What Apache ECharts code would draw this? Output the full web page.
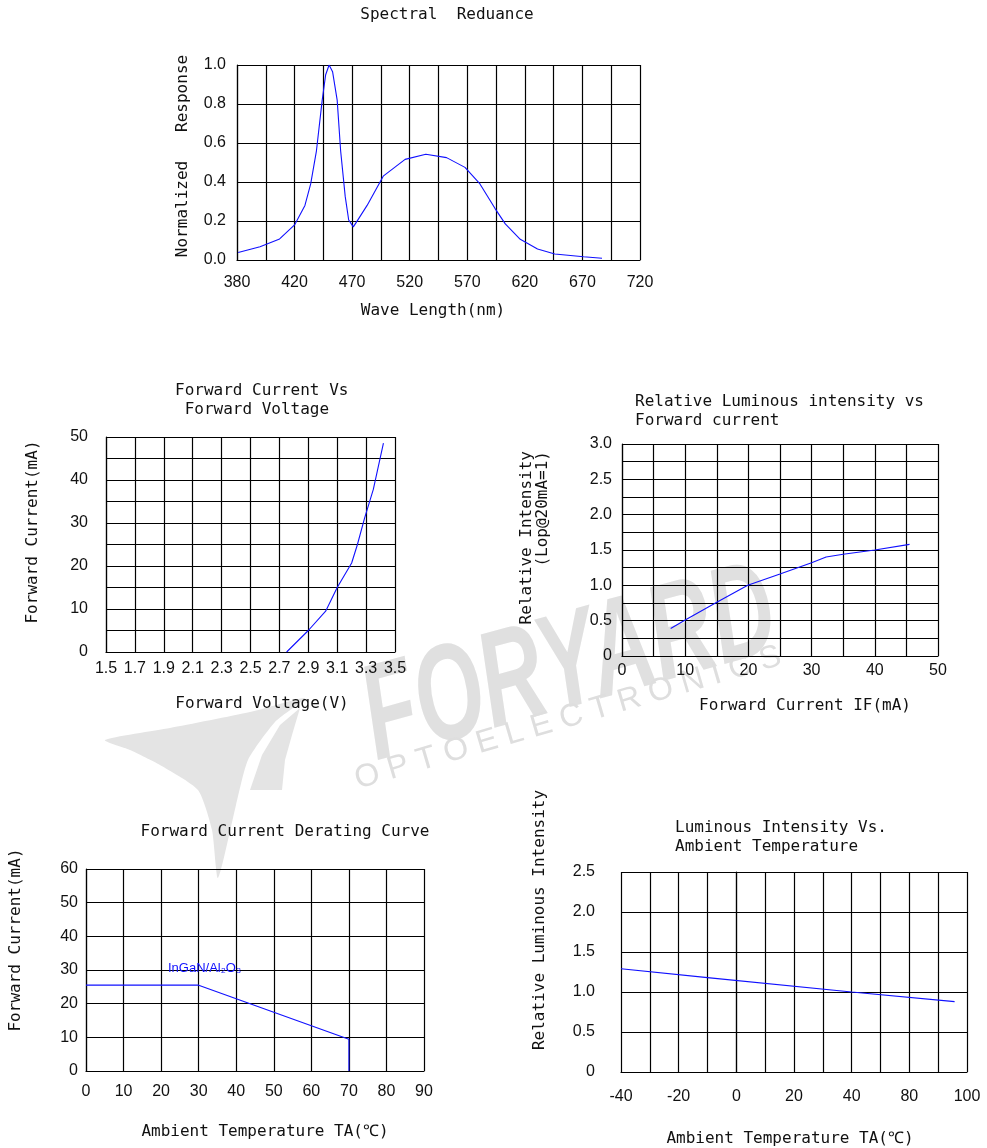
<!DOCTYPE html>
<html>
<head>
<meta charset="utf-8">
<script src="https://cdn.jsdelivr.net/npm/echarts@6/dist/echarts.min.js"></script>
<style>
html,body{margin:0;padding:0;background:#fff;}
#c{width:987px;height:1148px;}
</style>
</head>
<body>
<div id="c"></div>
<script>
// ---- Data ----
// Chart 1: Spectral response (axis in 25 nm columns starting at 370)
const specWave = [371,390,407,420,429,434,439,444,447,450,453,457,460,464,467,471,474,483,497,516,534,552,568,581,594,603,616,631,646,671,687];
const specResp = [0.038,0.068,0.108,0.18,0.28,0.39,0.56,0.82,0.95,1.0,0.966,0.82,0.56,0.325,0.205,0.17,0.197,0.28,0.43,0.516,0.542,0.525,0.475,0.39,0.265,0.185,0.106,0.056,0.031,0.017,0.009];
const specXLabels = ['380','420','470','520','570','620','670','720'];

// Chart 2: Forward current vs forward voltage
const vfVolt = [2.75,2.9,3.02,3.1,3.2,3.24,3.29,3.35,3.42];
const vfCurr = [0,5,9.5,15,20.7,25,31.2,37.8,48.6];

// Chart 3: Relative luminous intensity vs forward current
const ivCurr = [7.7,10,15,19.9,25,30,32.3,35,40,45.5];
const ivRel  = [0.39,0.51,0.76,1.0,1.16,1.32,1.4,1.44,1.5,1.58];

// Chart 4: Forward current derating curve
const derTemp = [0,30,70,70];
const derCurr = [25.5,25.5,9.4,0];

// Chart 5: Luminous intensity vs ambient temperature (axis in columns from -40, step 10)
const ltTemp = [-40,-10,40,75.7];
const ltRel  = [1.29,1.18,1.0,0.88];
const ltXLabels = ['-40','-20','0','20','40','80','100'];

// ---- Styles ----
const MONO = '"DejaVu Sans Mono", monospace';
const NUM = '"Liberation Sans Narrow", "Liberation Sans", sans-serif';
const txtColor = '#111';
const gridLine = {show:true, lineStyle:{color:'#000', width:1.2}};
const axLine = {show:true, lineStyle:{color:'#000', width:1.2}};
const lbl = (margin, fmt) => ({show:true, color:'#111', fontFamily:NUM, fontSize:16, margin:margin, formatter:fmt, showMinLabel:true, showMaxLabel:true});

function xy(arrX, arrY){ return arrX.map((x,i)=>[x, arrY[i]]); }

function xAx(gi, min, max, interval, margin, fmt){
  return {type:'value', gridIndex:gi, min, max, interval, axisLine:axLine, axisTick:{show:false},
    splitLine:gridLine, axisLabel:lbl(margin, fmt)};
}
function yAx(gi, min, max, interval, margin, fmt){
  return {type:'value', gridIndex:gi, min, max, interval, axisLine:axLine, axisTick:{show:false},
    splitLine:gridLine, axisLabel:lbl(margin, fmt)};
}
function line(i, data){
  return {type:'line', xAxisIndex:i, yAxisIndex:i, data, symbol:'none', smooth:false,
    lineStyle:{color:'#1010ff', width:1.1}, z:5};
}
function t(text, x, y, opts){
  opts = opts||{};
  return Object.assign({type:'text', x, y, z:10,
    style:Object.assign({text, font:'16px '+MONO, fill:txtColor,
      textAlign:opts.align||'center', align:opts.align||'center',
      textVerticalAlign:'middle', verticalAlign:'middle', lineHeight:opts.lh||19}, opts.style||{})},
    opts.rot ? {rotation:opts.rot} : {});
}

const chart = echarts.init(document.getElementById('c'), null, {renderer:'canvas'});

const option = {
  backgroundColor:'#fff',
  animation:false,
  grid:[
    {left:237, top:65, width:403, height:195},
    {left:106, top:437, width:289, height:215},
    {left:622, top:444, width:316, height:212},
    {left:86, top:869, width:338, height:202},
    {left:621, top:872, width:346, height:200}
  ],
  xAxis:[
    xAx(0, 370, 720, 25, 15, v => { const i = Math.round((v-370)/25); return i%2 ? '' : specXLabels[i/2]; }),
    xAx(1, 1.5, 3.5, 0.2, 9, v => v.toFixed(1)),
    xAx(2, 0, 50, 5, 7, v => (Math.round(v)%10 ? '' : String(v))),
    xAx(3, 0, 90, 10, 13, v => String(v)),
    xAx(4, -40, 80, 10, 17, v => { const i = Math.round((v+40)/10); return i%2 ? '' : ltXLabels[i/2]; })
  ],
  yAxis:[
    yAx(0, 0, 1, 0.2, 11, v => v.toFixed(1)),
    yAx(1, 0, 50, 5, 18, v => (Math.round(v)%10 ? '' : String(v))),
    yAx(2, 0, 3, 0.25, 10, v => (Math.round(v*100)%50 ? '' : (v===0 ? '0' : v.toFixed(1)))),
    yAx(3, 0, 60, 10, 8, v => String(v)),
    yAx(4, 0, 2.5, 0.5, 26, v => (v===0 ? '0' : v.toFixed(1)))
  ],
  series:[
    line(0, xy(specWave, specResp)),
    line(1, xy(vfVolt, vfCurr)),
    line(2, xy(ivCurr, ivRel)),
    line(3, xy(derTemp, derCurr)),
    line(4, xy(ltTemp, ltRel))
  ],
  graphic:[
    // watermark
    {type:'polygon', z:-10, shape:{smooth:0.2, points:[[105,740],[170,728],[250,712],[305,698],[275,722],[248,760],[236,805],[218,878],[212,830],[198,790],[160,765],[130,750]]},
      style:{fill:'#e4e4e4'}},
    {type:'polygon', z:-10, shape:{points:[[250,790],[262,755],[280,725],[300,708],[292,735],[285,760],[282,790]]},
      style:{fill:'#e4e4e4'}},
    {type:'text', z:-10, x:570, y:668, rotation:0.27, scaleX:0.64,
      style:{text:'FORYARD', font:'italic bold 136px "Liberation Sans", sans-serif', fill:'#e0e0e0',
        textAlign:'center', align:'center', textVerticalAlign:'middle', verticalAlign:'middle'}},
    {type:'text', z:-10, x:568, y:718, rotation:0.285,
      style:{text:'O P T O E L E C T R O N I C S', font:'32px "Liberation Sans", sans-serif', fill:'#dedede',
        textAlign:'center', align:'center', textVerticalAlign:'middle', verticalAlign:'middle'}},
    // titles
    t('Spectral  Reduance', 447, 15),
    t('Forward Current Vs\n Forward Voltage', 175, 400, {align:'left'}),
    t('Relative Luminous intensity vs\nForward current', 635, 411, {align:'left'}),
    t('Forward Current Derating Curve', 285, 832),
    t('Luminous Intensity Vs.\nAmbient Temperature', 675, 837, {align:'left'}),
    // axis names
    t('Normalized   Response', 183, 156, {rot:Math.PI/2}),
    t('Wave Length(nm)', 433, 311),
    t('Forward Current(mA)', 33, 532, {rot:Math.PI/2}),
    t('Forward Voltage(V)', 262, 704),
    t('Relative Intensity\n(Lop@20mA=1)', 535, 451, {rot:Math.PI/2, align:'right', lh:16}),
    t('Forward Current IF(mA)', 805, 706),
    t('Forward Current(mA)', 16, 940, {rot:Math.PI/2}),
    t('Ambient Temperature TA(℃)', 265, 1132),
    t('Relative Luminous Intensity', 540, 920, {rot:Math.PI/2}),
    t('Ambient Temperature TA(℃)', 790, 1139),
    // annotation
    {type:'text', z:10, x:168, y:968,
      style:{text:'InGaN/Al₂O₃', font:'13px "Liberation Sans Narrow", sans-serif', fill:'#1010ff',
        textAlign:'left', align:'left', textVerticalAlign:'middle', verticalAlign:'middle'}}
  ]
};
chart.setOption(option);
</script>
</body>
</html>
